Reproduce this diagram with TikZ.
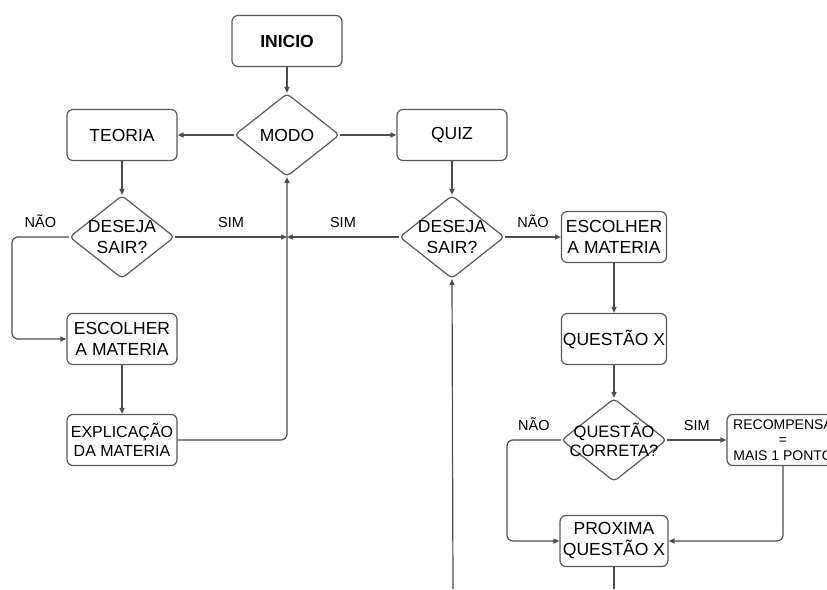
\documentclass[tikz,border=0pt]{standalone}
\usepackage{fontspec}
\setmainfont{Liberation Sans}
\usetikzlibrary{arrows.meta,
                shapes.geometric}

\begin{document}
\begin{tikzpicture}[x=1pt, y=-1pt,
my box/.style = {draw=black!65, line width=1.2pt, rounded corners=6pt,
                 fill=white, minimum width=110pt, minimum height=51pt,
                 align=center, inner sep=1pt,
                 font=\fontsize{17.5}{21}\selectfont},
my diamond/.style = {draw=black!65, line width=1.2pt, diamond, fill=white,
                     rounded corners=4pt,
                     minimum width=105pt, minimum height=83pt,
                     inner sep=-16pt, align=center,
                     font=\fontsize{17.5}{21}\selectfont},
my line/.style = {draw=black!70, line width=1.2pt, rounded corners=6pt,
                  -{Triangle[length=6pt,width=5pt]}},
my label/.style = {above, inner sep=3pt, yshift=6pt,
                   font=\fontsize{14.5}{16}\selectfont}
                   ]
\useasboundingbox (0,0) rectangle (827,589);
\node[my box, font=\fontsize{17.5}{21}\selectfont\bfseries]
                    (inicio) at (287,41)  {INICIO};
\node[my diamond]   (modo)   at (287,135) {MODO};
\node[my box]       (teoria) at (122,135) {TEORIA};
\node[my box]       (quiz)   at (452,135) {QUIZ};
\node[my diamond]   (sairT)  at (122,237) {DESEJA\\SAIR?};
\node[my diamond]   (sairQ)  at (452,237) {DESEJA\\SAIR?};
\node[my box]       (escT)   at (122,339) {ESCOLHER\\A MATERIA};
\node[my box, font=\fontsize{16}{19}\selectfont]
                    (explic) at (122,440) {EXPLICAÇÃO\\DA MATERIA};
\node[my box, minimum width=105pt]
                    (escQ)   at (614,237) {ESCOLHER\\A MATERIA};
\node[my box, minimum width=105pt]
                    (questao) at (614,339) {QUESTÃO X};
\node[my diamond, font=\fontsize{16.5}{19}\selectfont]
                    (correta) at (614,440) {QUESTÃO\\CORRETA?};
\node[my box, minimum width=112pt, font=\fontsize{14}{15.5}\selectfont]
                    (recomp) at (783,440) {RECOMPENSA\\=\\MAIS 1 PONTO};
\node[my box, minimum width=108pt]
                    (proxima) at (614,541) {PROXIMA\\QUESTÃO X};
\coordinate (junc)  at (287,237);
\coordinate (endP)  at (614,589);
\coordinate (startQ) at (453,589);

\path[my line] (inicio) -- (modo);
\path[my line] (modo) -- (teoria);
\path[my line] (modo) -- (quiz);
\path[my line] (teoria) -- (sairT);
\path[my line] (quiz) -- (sairQ);
\path[my line] (sairT.east) -- node[my label] (simT) {SIM} (junc);
\path[my line] (sairQ.west) -- node[my label] (simQ) {SIM} (junc);
\path[my line] (explic.east) -| (modo.south);
\path[my line] (sairT.west) -- node[my label] (naoT) {NÃO} (12,237) |- (escT.west);
\path[my line] (escT) -- (explic);
\path[my line] (sairQ.east) -- node[my label] (naoQ) {NÃO} (escQ.west);
\path[my line] (escQ) -- (questao);
\path[my line] (questao) -- (correta);
\path[my line] (correta.east) -- node[my label] (simC) {SIM} (recomp.west);
\path[my line] (recomp.south) |- (proxima.east);
\path[my line] (correta.west) -- node[my label] (naoC) {NÃO} (507,440) |- (proxima.west);
\path[my line, -] (proxima.south) -- (endP);
\path[my line] (startQ) -- (sairQ.south);
\end{tikzpicture}
\end{document}
